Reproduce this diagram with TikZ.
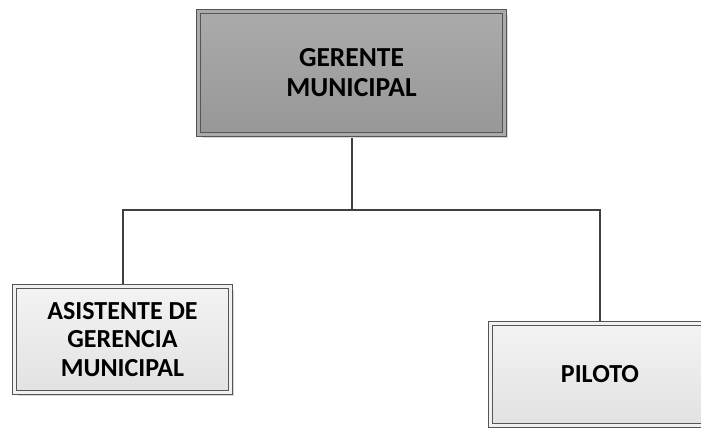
\documentclass[tikz,border=0pt]{standalone}
\usepackage{fontspec}
\setmainfont{Carlito}
\usetikzlibrary{shadows,backgrounds}
\definecolor{boxline}{HTML}{555555}
\definecolor{linkline}{HTML}{404040}
\definecolor{darktop}{HTML}{ABABAB}
\definecolor{darkbot}{HTML}{979797}
\definecolor{lighttop}{HTML}{F3F3F3}
\definecolor{lightbot}{HTML}{E2E2E2}
\definecolor{shade}{HTML}{D6D6D6}
\begin{document}
\begin{tikzpicture}[x=1pt,y=-1pt,
	orgbox/.style={rectangle,inner sep=0pt,align=center,
		font=\fontsize{26}{28.5}\selectfont\bfseries,
		draw=boxline,line width=1pt,double distance=3pt,
		drop shadow={shadow xshift=3pt,shadow yshift=-3pt,fill=shade,opacity=1}},
	headbox/.style={orgbox,top color=darktop,bottom color=darkbot,double=darktop!95!darkbot,
		font=\fontsize{27.5}{30}\selectfont\bfseries},
	subbox/.style={orgbox,top color=lighttop,bottom color=lightbot,double=lighttop!90!lightbot},
	link/.style={draw=linkline,line width=2pt}]
	\useasboundingbox (0,0) rectangle (701,429);
	\node[headbox,minimum width=306pt,minimum height=123pt] (gerente) at (351.5,73) {GERENTE\\MUNICIPAL};
	\node[subbox,minimum width=216pt,minimum height=106pt] (asistente) at (122.5,339.5) {ASISTENTE DE\\GERENCIA\\MUNICIPAL};
	\node[subbox,minimum width=219pt,minimum height=102pt] (piloto) at (600,374) {PILOTO};
	\coordinate (bus) at (351.5,210);
	\begin{scope}[on background layer]
		\draw[link] (gerente.south) -- (bus);
		\draw[link] (asistente.north) |- (bus) -| (piloto.north);
	\end{scope}
\end{tikzpicture}
\end{document}
